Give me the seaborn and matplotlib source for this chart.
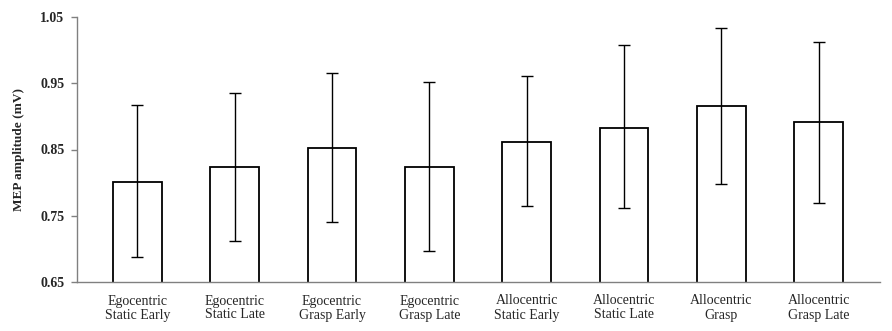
import matplotlib
matplotlib.use("Agg")
import matplotlib.pyplot as plt
import seaborn as sns
import pandas as pd
import numpy as np

categories = ["Egocentric\nStatic Early", "Egocentric\nStatic Late", "Egocentric\nGrasp Early",
              "Egocentric\nGrasp Late", "Allocentric\nStatic Early", "Allocentric\nStatic Late",
              "Allocentric\nGrasp", "Allocentric\nGrasp Late"]
means = [0.801, 0.824, 0.853, 0.824, 0.862, 0.883, 0.916, 0.892]
err_upper = [0.917, 0.936, 0.966, 0.952, 0.961, 1.007, 1.033, 1.013]
err_lower = [0.687, 0.712, 0.740, 0.697, 0.765, 0.762, 0.798, 0.770]
yticks = [0.65, 0.75, 0.85, 0.95, 1.05]

sns.set_theme(style="white")
plt.rcParams['font.family'] = ['Liberation Serif', 'DejaVu Serif']

df = pd.DataFrame({"cond": categories, "mep": means})

fig = plt.figure(figsize=(8.92, 3.31), dpi=100)
ax = fig.add_axes([77/892, 1 - 282/331, (880-77)/892, (282-17)/331])

sns.barplot(data=df, x="cond", y="mep", ax=ax, color="white", edgecolor="black",
            linewidth=1.3, width=0.5, errorbar=None)

x = np.arange(len(categories))
m = np.array(means)
yerr = np.vstack([m - np.array(err_lower), np.array(err_upper) - m])
ax.errorbar(x, m, yerr=yerr, fmt="none", ecolor="black", elinewidth=1.0, capsize=4, capthick=1.0)

ax.set_ylim(0.65, 1.05)
ax.set_xlim(-0.62, 7.63)
ax.set_yticks(yticks)
ax.set_yticklabels([f"{t:.2f}" for t in yticks], fontweight="bold", fontsize=10)
ax.set_xticks(x)
ax.set_xticklabels(categories, fontsize=10, linespacing=1.1)
ax.tick_params(axis="y", which="both", left=True, length=4, color="#808080", width=1, pad=5)
ax.tick_params(axis="x", bottom=False, pad=3)
ax.set_xlabel("")
ax.set_ylabel("MEP amplitude (mV)", fontweight="bold", fontsize=9.5, labelpad=11)

for s in ["top", "right"]:
    ax.spines[s].set_visible(False)
for s in ["left", "bottom"]:
    ax.spines[s].set_color("#808080")
    ax.spines[s].set_linewidth(1)

fig.savefig("out.png", dpi=100)
